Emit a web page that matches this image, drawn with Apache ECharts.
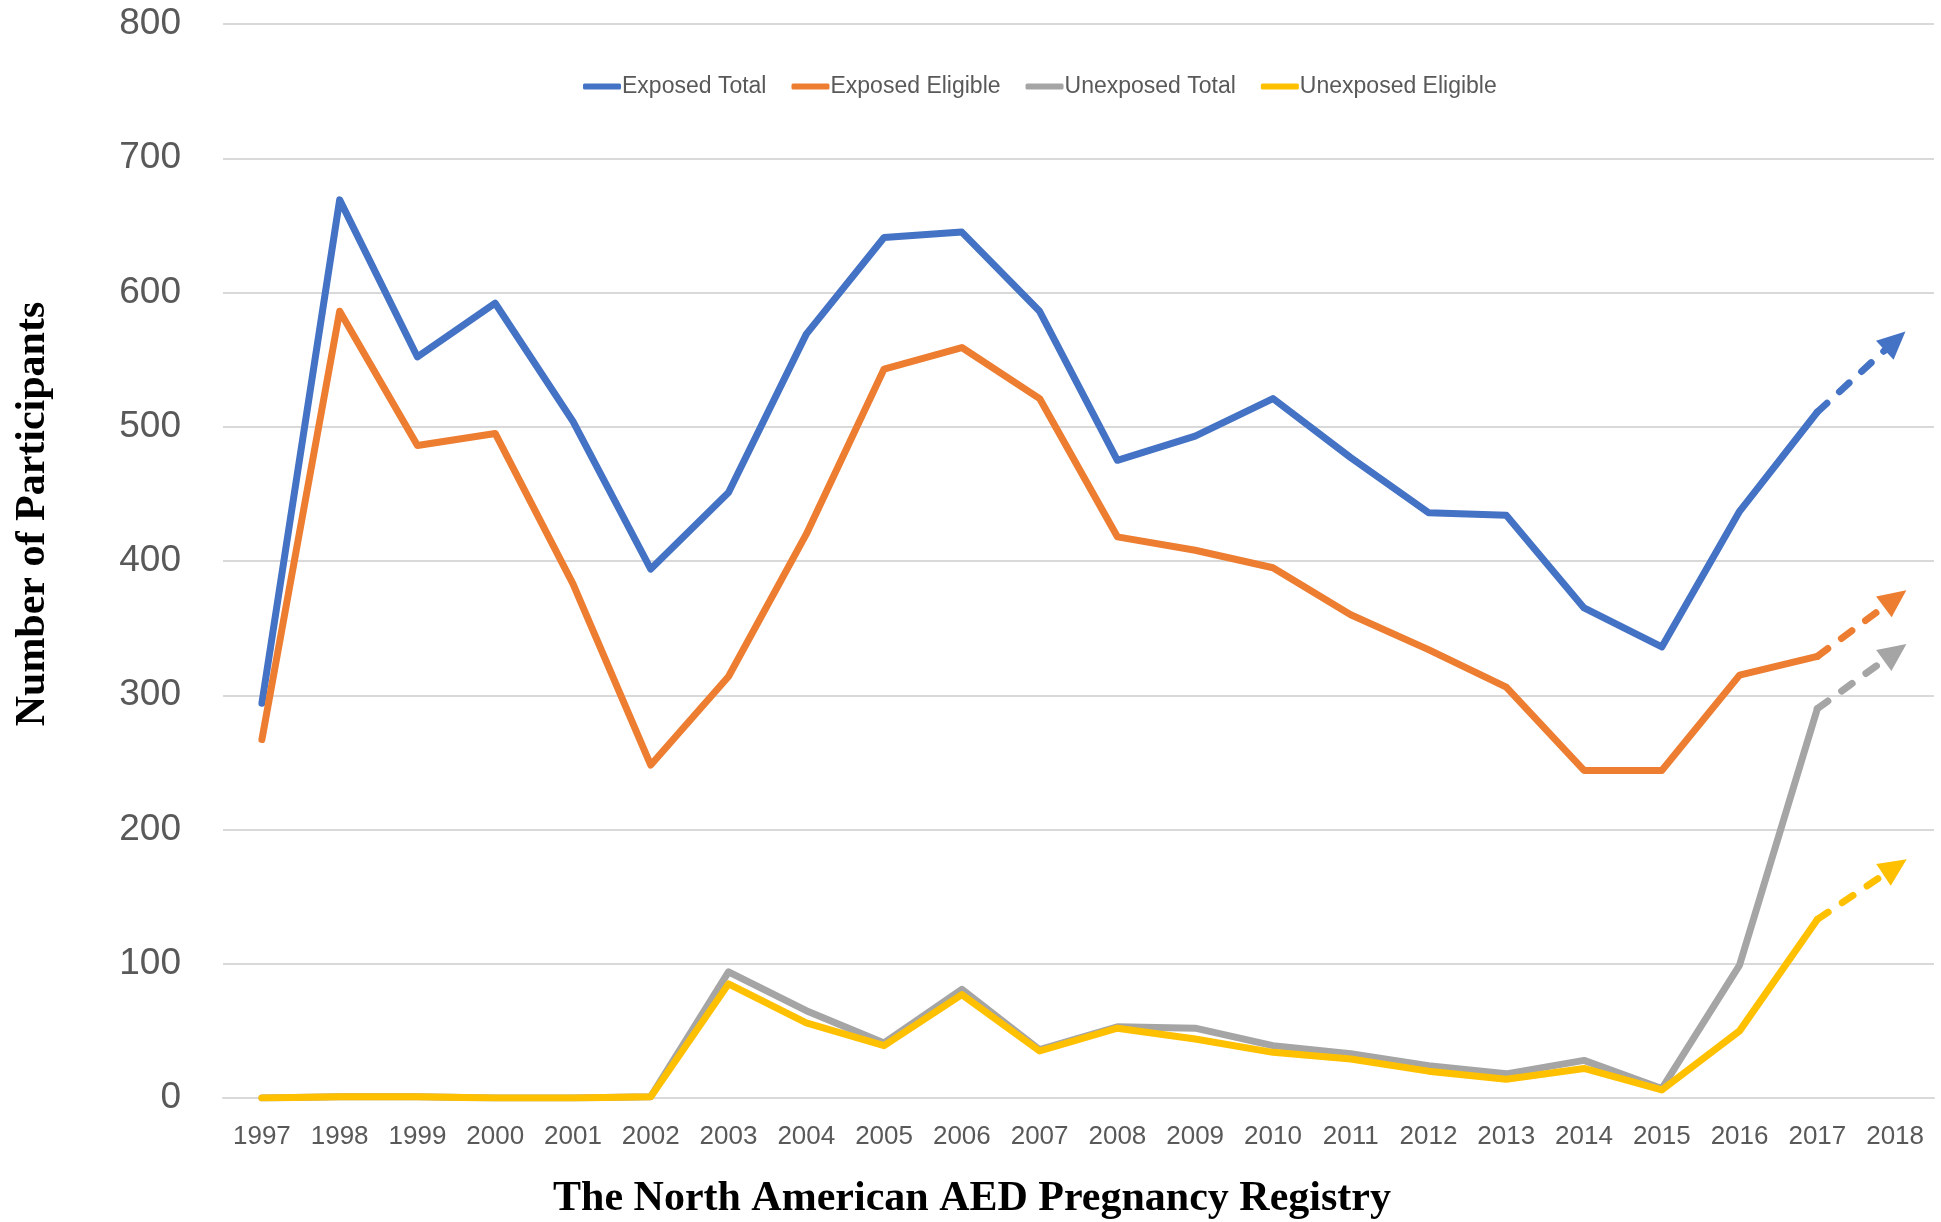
<!DOCTYPE html>
<html>
<head>
<meta charset="utf-8">
<title>The North American AED Pregnancy Registry</title>
<script src="https://cdn.jsdelivr.net/npm/echarts@6/dist/echarts.min.js"></script>
<style>
  html, body { margin: 0; padding: 0; background: #fff; }
  #chart { width: 1941px; height: 1222px; }
</style>
</head>
<body>
<div id="chart"></div>
<script>
// categories (x axis)
var years = ['1997', '1998', '1999', '2000', '2001', '2002', '2003', '2004', '2005', '2006', '2007',
  '2008', '2009', '2010', '2011', '2012', '2013', '2014', '2015', '2016', '2017', '2018'];

// yearly counts, 1997 - 2017
var exposedTotal = [294, 669, 552, 592, 504, 394, 451, 569, 641, 645, 586, 475, 493, 521, 477, 436, 434, 365, 336, 437, 511];
var exposedEligible = [267, 586, 486, 495, 383, 248, 314, 420, 543, 559, 521, 418, 408, 395, 360, 334, 306, 244, 244, 315, 329];
var unexposedTotal = [0, 1, 1, 0, 0, 1, 94, 65, 41, 81, 36, 53, 52, 39, 33, 24, 18, 28, 7, 99, 290];
var unexposedEligible = [0, 1, 1, 0, 0, 1, 85, 56, 39, 77, 35, 52, 44, 34, 29, 20, 14, 22, 6, 50, 133];

// projected 2018 values (dashed arrows)
var projected2018 = {
  'Exposed Total': 564,
  'Exposed Eligible': 372,
  'Unexposed Total': 332,
  'Unexposed Eligible': 172
};

var yTicks = { min: 0, max: 800, interval: 100 };

var colors = ['#4472C4', '#ED7D31', '#A5A5A5', '#FFC000'];
var labelFont = '"Liberation Sans", Arial, sans-serif';
var titleFont = '"Liberation Serif", "DejaVu Serif", serif';

function makeSeries(name, values, color) {
  var last = values.length - 1;
  return {
    name: name,
    type: 'line',
    data: values,
    symbol: 'none',
    color: color,
    lineStyle: { width: 7, color: color, cap: 'round', join: 'round' },
    animation: false,
    markLine: {
      silent: true,
      animation: false,
      symbol: ['none', 'triangle'],
      symbolSize: [26, 28],
      label: { show: false },
      lineStyle: { type: [13, 17], width: 7, color: color, cap: 'round' },
      data: [[
        { coord: [years[last], values[last]] },
        { coord: [years[last + 1], projected2018[name]] }
      ]]
    }
  };
}

var chart = echarts.init(document.getElementById('chart'));

var option = {
  backgroundColor: '#ffffff',
  color: colors,
  grid: { left: 223, right: 7, top: 24, bottom: 124, containLabel: false },
  legend: {
    top: 70,
    left: 578,
    icon: 'roundRect',
    itemWidth: 38,
    itemHeight: 6,
    itemGap: 25,
    textStyle: { fontFamily: labelFont, fontSize: 23, color: '#595959', padding: [0, 0, 0, -4] },
    data: ['Exposed Total', 'Exposed Eligible', 'Unexposed Total', 'Unexposed Eligible']
  },
  xAxis: {
    type: 'category',
    data: years,
    boundaryGap: true,
    axisTick: { show: false },
    axisLine: { lineStyle: { color: '#D9D9D9', width: 2 } },
    axisLabel: { margin: 26, fontFamily: labelFont, fontSize: 26, color: '#595959' }
  },
  yAxis: {
    type: 'value',
    min: yTicks.min,
    max: yTicks.max,
    interval: yTicks.interval,
    axisLine: { show: false },
    axisTick: { show: false },
    axisLabel: { margin: 42, fontFamily: labelFont, fontSize: 37, color: '#595959' },
    splitLine: { lineStyle: { color: '#D9D9D9', width: 2 } }
  },
  graphic: [
    {
      type: 'text',
      x: 33,
      y: 514,
      rotation: Math.PI / 2,
      style: {
        text: 'Number of Participants',
        font: 'bold 42px ' + titleFont,
        fill: '#000',
        textAlign: 'center',
        textVerticalAlign: 'middle'
      }
    },
    {
      type: 'text',
      x: 972,
      y: 1199,
      style: {
        text: 'The North American AED Pregnancy Registry',
        font: 'bold 42px ' + titleFont,
        fill: '#000',
        textAlign: 'center',
        textVerticalAlign: 'middle'
      }
    }
  ],
  series: [
    makeSeries('Exposed Total', exposedTotal, colors[0]),
    makeSeries('Exposed Eligible', exposedEligible, colors[1]),
    makeSeries('Unexposed Total', unexposedTotal, colors[2]),
    makeSeries('Unexposed Eligible', unexposedEligible, colors[3])
  ]
};

chart.setOption(option);
</script>
</body>
</html>
